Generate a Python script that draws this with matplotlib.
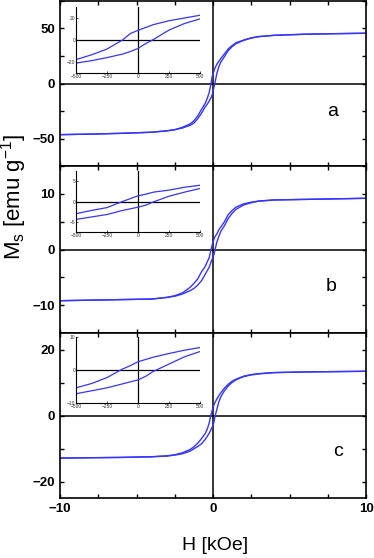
import matplotlib
matplotlib.use('Agg')
import matplotlib.pyplot as plt
from matplotlib.ticker import MultipleLocator, FixedLocator
import numpy as np

plt.rcParams['font.family'] = ['Liberation Sans', 'DejaVu Sans']

# Field values in kOe (shared by all three samples)
field_koe = [-10, -8, -6, -4, -3, -2.5, -2, -1.5, -1.25, -1, -0.75, -0.5, -0.375, -0.25,
             -0.125, -0.0625, 0, 0.0625, 0.125, 0.25, 0.375, 0.5, 0.75, 1, 1.25, 1.5,
             2, 2.5, 3, 4, 6, 8, 10]

# Sample a, emu/g (upper = descending field branch)
upper_a = [-46.5, -46, -45.3, -44.3, -43, -42, -39.8, -36.8, -34, -29.5, -23.5, -17.8, -13.5,
           -8.2, 0, 5.8, 8.8, 11.4, 14, 17.5, 20, 22.5, 27, 31.5, 34.5, 37, 39.5, 41.5,
           42.7, 43.8, 44.8, 45.3, 45.7]
lower_a = [-46.5, -46, -45.3, -44.3, -43, -42, -40.5, -38, -36, -32, -27, -21, -18.8,
           -16, -12.8, -10.5, -7.7, -3.2, 0.5, 9, 15, 19.2, 24.5, 30, 33.5, 36.2, 39.2,
           41.3, 42.6, 43.8, 44.8, 45.3, 45.7]

# Sample b
upper_b = [-9.2, -9.1, -9.0, -8.9, -8.6, -8.3, -7.8, -6.8, -6.1, -5.3, -4.0, -3.0, -2.2,
           -1.5, 0.0, 0.7, 1.4, 1.8, 2.3, 2.8, 3.5, 4.0, 5.0, 6.3, 7.0, 7.6, 8.2, 8.5,
           8.7, 8.9, 9.0, 9.1, 9.2]
lower_b = [-9.2, -9.1, -9.0, -8.9, -8.6, -8.4, -8.0, -7.4, -7.0, -6.4, -5.6, -4.4, -3.8,
           -3.2, -2.2, -1.8, -1.4, -0.9, -0.1, 1.3, 2.3, 3.2, 4.3, 5.6, 6.5, 7.2, 8.0,
           8.4, 8.7, 8.9, 9.0, 9.1, 9.2]

# Sample c
upper_c = [-12.9, -12.8, -12.7, -12.5, -12.2, -11.9, -11.3, -10.3, -9.5, -8.4, -7.0, -5.4,
           -4.1, -2.3, 0.3, 1.3, 2.5, 3.2, 3.9, 5.0, 6.0, 6.8, 8.3, 9.5, 10.4, 11.0, 11.9,
           12.4, 12.7, 13.0, 13.2, 13.3, 13.4]
lower_c = [-12.9, -12.8, -12.7, -12.5, -12.3, -12.0, -11.6, -10.8, -10.1, -9.4, -8.6, -7.2,
           -6.3, -5.4, -4.2, -3.6, -3.0, -1.9, -0.4, 1.8, 4.0, 5.6, 7.5, 9.0, 10.0, 10.8,
           11.8, 12.3, 12.6, 13.0, 13.2, 13.3, 13.4]

samples = ['a', 'b', 'c']
uppers = [upper_a, upper_b, upper_c]
lowers = [lower_a, lower_b, lower_c]
main_ylims = [75, 15, 25]
main_major = [[-50, 0, 50], [-10, 0, 10], [-20, 0, 20]]
main_minor = [25, 5, 10]
label_pos = [(7.8, -25), (7.7, -6.7), (8.2, -11)]

inset_ylims = [30, 7.5, 10]
inset_yticks = [[-20, 0, 20], [-5, 0, 5], [-10, 0, 10]]
inset_xticks = [-500, -250, 0, 250, 500]

W, H = 374, 558
fig = plt.figure(figsize=(W / 100, H / 100), dpi=100)

main_boxes = [(1, 166), (166, 333), (333, 498)]   # pixel top/bottom
inset_boxes = [(7, 73), (171, 232), (337, 403)]

line_col = '#3535ff'
h = np.array(field_koe)

for i in range(3):
    top, bot = main_boxes[i]
    ax = fig.add_axes([60 / W, 1 - bot / H, 306 / W, (bot - top) / H])
    ax.axhline(0, color='black', lw=1.1, zorder=1)
    ax.axvline(0, color='black', lw=1.1, zorder=1)
    ax.plot(h, uppers[i], color=line_col, lw=1.0, zorder=2)
    ax.plot(h, lowers[i], color=line_col, lw=1.0, zorder=2)
    ax.set_xlim(-10, 10)
    ax.set_ylim(-main_ylims[i], main_ylims[i])
    ax.xaxis.set_major_locator(FixedLocator([-10, 0, 10]))
    ax.xaxis.set_minor_locator(MultipleLocator(2.5))
    ax.yaxis.set_major_locator(FixedLocator(main_major[i]))
    ax.yaxis.set_minor_locator(MultipleLocator(main_minor[i]))
    ax.tick_params(which='both', direction='in', top=True, right=True,
                   length=3, width=1, labelsize=9.5)
    for lab in ax.get_xticklabels() + ax.get_yticklabels():
        lab.set_fontweight('bold')
    for sp in ax.spines.values():
        sp.set_linewidth(1.2)
    if i < 2:
        ax.tick_params(labelbottom=False)
    ax.text(label_pos[i][0], label_pos[i][1], samples[i], fontsize=14,
            ha='center', va='center')

    # inset: low-field zoom of the loop, field in Oe
    itop, ibot = inset_boxes[i]
    ins = fig.add_axes([76 / W, 1 - ibot / H, 124 / W, (ibot - itop) / H])
    ins.patch.set_alpha(0)
    ins.axhline(0, color='black', lw=0.9)
    ins.axvline(0, color='black', lw=0.9)
    ins.plot(h * 1000, uppers[i], color=line_col, lw=0.9)
    ins.plot(h * 1000, lowers[i], color=line_col, lw=0.9)
    ins.set_xlim(-500, 500)
    ins.set_ylim(-inset_ylims[i], inset_ylims[i])
    ins.set_xticks(inset_xticks)
    ins.set_yticks(inset_yticks[i])
    ins.spines['top'].set_visible(False)
    ins.spines['right'].set_visible(False)
    ins.tick_params(direction='in', length=1.5, width=0.6, labelsize=3.5, pad=1,
                    colors='#333333')
    ins.tick_params(axis='y', pad=0.5)

fig.text(14 / W, 1 - 197 / H, 'M$_\\mathregular{s}$ [emu g$^\\mathregular{-1}$]',
         rotation=90, fontsize=16, ha='center', va='center')
fig.text(215 / W, 1 - 546 / H, 'H [kOe]', fontsize=14, ha='center', va='center')

fig.savefig('out.png', dpi=100)
